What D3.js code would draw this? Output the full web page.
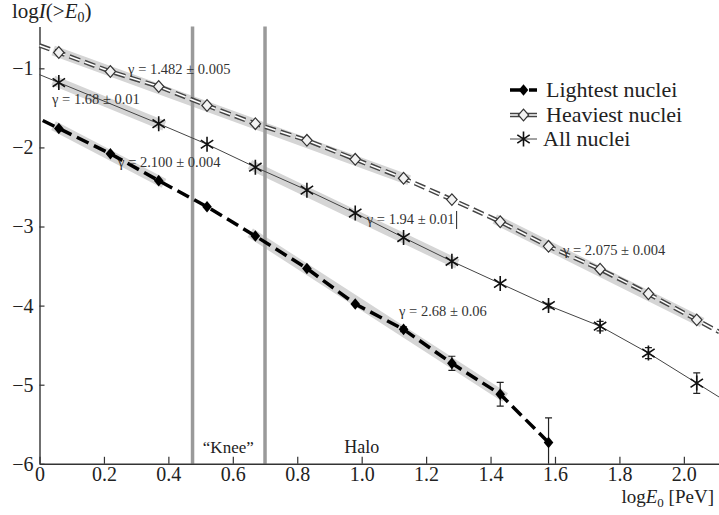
<!DOCTYPE html>
<html>
<head>
<meta charset="utf-8">
<script src="https://cdn.jsdelivr.net/npm/d3@7"></script>
<style>
body { margin: 0; background: #fff; }
svg { display: block; font-family: "Liberation Serif", "Times New Roman", serif; }
</style>
</head>
<body>
<script>
// energy bins, logE0 [PeV]
var logE = [0.06, 0.22, 0.37, 0.52, 0.67, 0.83, 0.98, 1.13, 1.28, 1.43, 1.58, 1.74, 1.89, 2.04];

// log I(>E0) for each group (null = no point)
var lightest    = [-1.76, -2.08, -2.42, -2.75, -3.12, -3.53, -3.98, -4.30, -4.73, -5.12, -5.73];
var lightestErr = [0, 0, 0, 0, 0, 0, 0, 0.03, 0.09, 0.15, 0.31];
var heaviest    = [-0.80, -1.04, -1.23, -1.47, -1.70, -1.91, -2.15, -2.39, -2.66, -2.94, -3.25, -3.54, -3.85, -4.18];
var allNuclei   = [-1.18, null, -1.70, -1.96, -2.25, -2.54, -2.83, -3.14, -3.44, -3.72, -4.00, -4.26, -4.60, -4.98];
var allErr      = [0, null, 0, 0, 0, 0, 0, 0, 0, 0, 0.03, 0.06, 0.07, 0.13];

// fitted power-law segments: [first bin, last bin]
var lightFits = [[0, 2], [4, 9]];
var heavyFits = [[0, 7], [9, 13]];
var allFits   = [[0, 2], [4, 8]];
var fitLabels = ['γ = 1.482 ± 0.005', 'γ = 1.68 ± 0.01', 'γ = 2.100 ± 0.004',
                 'γ = 1.94 ± 0.01', 'γ = 2.075 ± 0.004', 'γ = 2.68 ± 0.06'];

var kneeBounds = [0.475, 0.70];
var xTicks = [0, 0.2, 0.4, 0.6, 0.8, 1.0, 1.2, 1.4, 1.6, 1.8, 2.0];
var yTicks = [-6, -5, -4, -3, -2, -1];
var legendNames = ['Lightest nuclei', 'Heaviest nuclei', 'All nuclei'];

var W = 719, H = 515;
var svg = d3.select('body').append('svg').attr('width', W).attr('height', H);

var x = d3.scaleLinear().domain([0, 2.11]).range([39.5, 719.3]);
var y = d3.scaleLinear().domain([-6, -0.47]).range([463.8, 26.4]);

function pts(vals, errs) {
  return vals.map(function(v, i) { return {x: logE[i], y: v, e: errs ? errs[i] : 0}; })
             .filter(function(d) { return d.y != null; });
}
function byBin(vals) {
  return function(i) { return {x: logE[i], y: vals[i]}; };
}
// extend the polyline to given x at each end, along the end segment
function extend(p, left, right) {
  var out = p.slice();
  if (left != null) {
    var a = p[0], b = p[1], s = (b.y - a.y) / (b.x - a.x);
    out.unshift({x: left, y: a.y + s * (left - a.x)});
  }
  if (right != null) {
    var c = p[p.length - 2], d = p[p.length - 1], s2 = (d.y - c.y) / (d.x - c.x);
    out.push({x: right, y: d.y + s2 * (right - d.x)});
  }
  return out;
}

var line = d3.line().x(function(d) { return x(d.x); }).y(function(d) { return y(d.y); });

var lightPts = pts(lightest, lightestErr);
var heavyPts = pts(heaviest);
var allPts = pts(allNuclei, allErr);

// grey fit bands
var bands = svg.append('g');
function band(vals, r) {
  var a = byBin(vals)(r[0]), b = byBin(vals)(r[1]);
  var x1 = x(a.x), y1 = y(a.y), x2 = x(b.x), y2 = y(b.y);
  var L = Math.hypot(x2 - x1, y2 - y1), ux = (x2 - x1) / L, uy = (y2 - y1) / L;
  bands.append('line')
    .attr('x1', x1 - ux * 6).attr('y1', y1 - uy * 6)
    .attr('x2', x2 + ux * 6).attr('y2', y2 + uy * 6)
    .attr('stroke', '#d5d5d5').attr('stroke-width', 10);
}
heavyFits.forEach(function(r) { band(heaviest, r); });
allFits.forEach(function(r) { band(allNuclei, r); });
lightFits.forEach(function(r) { band(lightest, r); });

// knee region boundaries
svg.append('g').selectAll('line').data(kneeBounds).enter().append('line')
  .attr('x1', function(d) { return x(d); }).attr('x2', function(d) { return x(d); })
  .attr('y1', y(-0.47)).attr('y2', y(-6))
  .attr('stroke', '#9a9a9a').attr('stroke-width', 3.5);

// axes
var xAxis = d3.axisBottom(x).tickValues(xTicks).tickSize(-7).tickSizeOuter(0).tickPadding(3)
  .tickFormat(function(d) { return d === 0 ? '0' : d3.format('.1f')(d); });
var yAxis = d3.axisLeft(y).tickValues(yTicks).tickSize(-5).tickSizeOuter(0).tickPadding(6)
  .tickFormat(d3.format('d'));

var gx = svg.append('g').attr('transform', 'translate(0,' + y(-6) + ')').call(xAxis);
var gy = svg.append('g').attr('transform', 'translate(' + x(0) + ',0)').call(yAxis);
[gx, gy].forEach(function(g) {
  g.attr('font-family', null).attr('font-size', null);
  g.select('.domain').attr('stroke', '#333').attr('stroke-width', 1.4);
  g.selectAll('.tick line').attr('stroke', '#333').attr('stroke-width', 1.2);
  g.selectAll('.tick text').attr('font-size', 20).attr('fill', '#222');
});

// series line styles
function lightLine(g, d) {
  g.append('path').attr('d', d).attr('fill', 'none')
    .attr('stroke', '#000').attr('stroke-width', 3.5).attr('stroke-dasharray', '13,6');
}
function heavyLine(g, d) {
  g.append('path').attr('d', d).attr('fill', 'none')
    .attr('stroke', '#444').attr('stroke-width', 4.5).attr('stroke-dasharray', '11,5');
  g.append('path').attr('d', d).attr('fill', 'none')
    .attr('stroke', '#fff').attr('stroke-width', 1.6).attr('stroke-dasharray', '11,5');
}
function allLine(g, d) {
  g.append('path').attr('d', d).attr('fill', 'none')
    .attr('stroke', '#444').attr('stroke-width', 1);
}

function diamond(w, h) { return 'M0,' + (-h) + 'L' + w + ',0L0,' + h + 'L' + (-w) + ',0Z'; }
var star = 'M0,-7.5V7.5M-6.2,-4.2L6.2,4.2M-6.2,4.2L6.2,-4.2';

function lightMark(g) { g.append('path').attr('d', diamond(4.8, 5.8)).attr('fill', '#000'); }
function heavyMark(g) {
  g.append('path').attr('d', diamond(5.2, 5.8)).attr('fill', '#f2f2f2')
    .attr('stroke', '#333').attr('stroke-width', 1.2);
}
function allMark(g) {
  g.append('path').attr('d', star).attr('fill', 'none').attr('stroke', '#111').attr('stroke-width', 1.6);
}

var series = [
  {p: lightPts, ext: extend(lightPts, 0.01, null), ln: lightLine, mk: lightMark},
  {p: heavyPts, ext: extend(heavyPts, 0, 2.11), ln: heavyLine, mk: heavyMark},
  {p: allPts, ext: extend(allPts, 0, 2.11), ln: allLine, mk: allMark}
];

series.forEach(function(s) {
  var g = svg.append('g');
  s.ln(g, line(s.ext));
  // error bars
  s.p.filter(function(d) { return d.e > 0; }).forEach(function(d) {
    var top = y(d.y + d.e), bot = Math.min(y(d.y - d.e), y(-6));
    g.append('path')
      .attr('d', 'M' + x(d.x) + ',' + top + 'V' + bot +
                 'M' + (x(d.x) - 3.5) + ',' + top + 'h7' +
                 (bot < y(-6) ? 'M' + (x(d.x) - 3.5) + ',' + bot + 'h7' : ''))
      .attr('stroke', '#222').attr('stroke-width', 1.2).attr('fill', 'none');
  });
  s.p.forEach(function(d) {
    s.mk(g.append('g').attr('transform', 'translate(' + x(d.x) + ',' + y(d.y) + ')'));
  });
});

// fit slope labels (placed in data units)
var labelPos = [[0.275, -1.072], [0.039, -1.451], [0.244, -2.248],
                [1.016, -2.968], [1.625, -3.36], [1.116, -4.132]];
var labels = svg.append('g').attr('font-size', 14.5).attr('fill', '#333');
fitLabels.forEach(function(t, i) {
  var tx = labels.append('text').attr('x', x(labelPos[i][0])).attr('y', y(labelPos[i][1])).text(t);
  if (i === 3) {
    var end = x(labelPos[i][0]) + tx.node().getComputedTextLength() + 2;
    labels.append('line').attr('x1', end).attr('x2', end)
      .attr('y1', y(labelPos[i][1]) - 13).attr('y2', y(labelPos[i][1]) + 5)
      .attr('stroke', '#222').attr('stroke-width', 1);
  }
});

// region labels
svg.append('text').attr('x', x(0.586)).attr('y', y(-5.867)).attr('text-anchor', 'middle')
  .attr('font-size', 17).attr('fill', '#222').text('“Knee”');
svg.append('text').attr('x', x(1.0)).attr('y', y(-5.867)).attr('text-anchor', 'middle')
  .attr('font-size', 18).attr('fill', '#222').text('Halo');

// axis titles
var yt = svg.append('text').attr('x', 12).attr('y', 18).attr('font-size', 21).attr('fill', '#222');
yt.append('tspan').text('log');
yt.append('tspan').attr('font-style', 'italic').text('I');
yt.append('tspan').text('(>');
yt.append('tspan').attr('font-style', 'italic').text('E');
yt.append('tspan').attr('font-size', 14).attr('dy', 4).text('0');
yt.append('tspan').attr('dy', -4).text(')');

var xt = svg.append('text').attr('x', 714).attr('y', 503).attr('text-anchor', 'end')
  .attr('font-size', 19).attr('fill', '#222');
xt.append('tspan').text('log');
xt.append('tspan').attr('font-style', 'italic').text('E');
xt.append('tspan').attr('font-size', 13).attr('dy', 4).text('0');
xt.append('tspan').attr('dy', -4).text(' [PeV]');

// legend
var legend = svg.append('g').attr('transform', 'translate(510,90)');
[lightLine, heavyLine, allLine].forEach(function(fn, i) {
  var row = legend.append('g').attr('transform', 'translate(0,' + [0, 25, 49][i] + ')');
  fn(row, 'M0,0H27');
  [lightMark, heavyMark, allMark][i](row.append('g').attr('transform', 'translate(13.5,0)'));
  row.append('text').attr('x', i === 2 ? 33 : 36).attr('dy', '0.33em')
    .attr('font-size', 22).attr('fill', '#222').text(legendNames[i]);
});
</script>
</body>
</html>
